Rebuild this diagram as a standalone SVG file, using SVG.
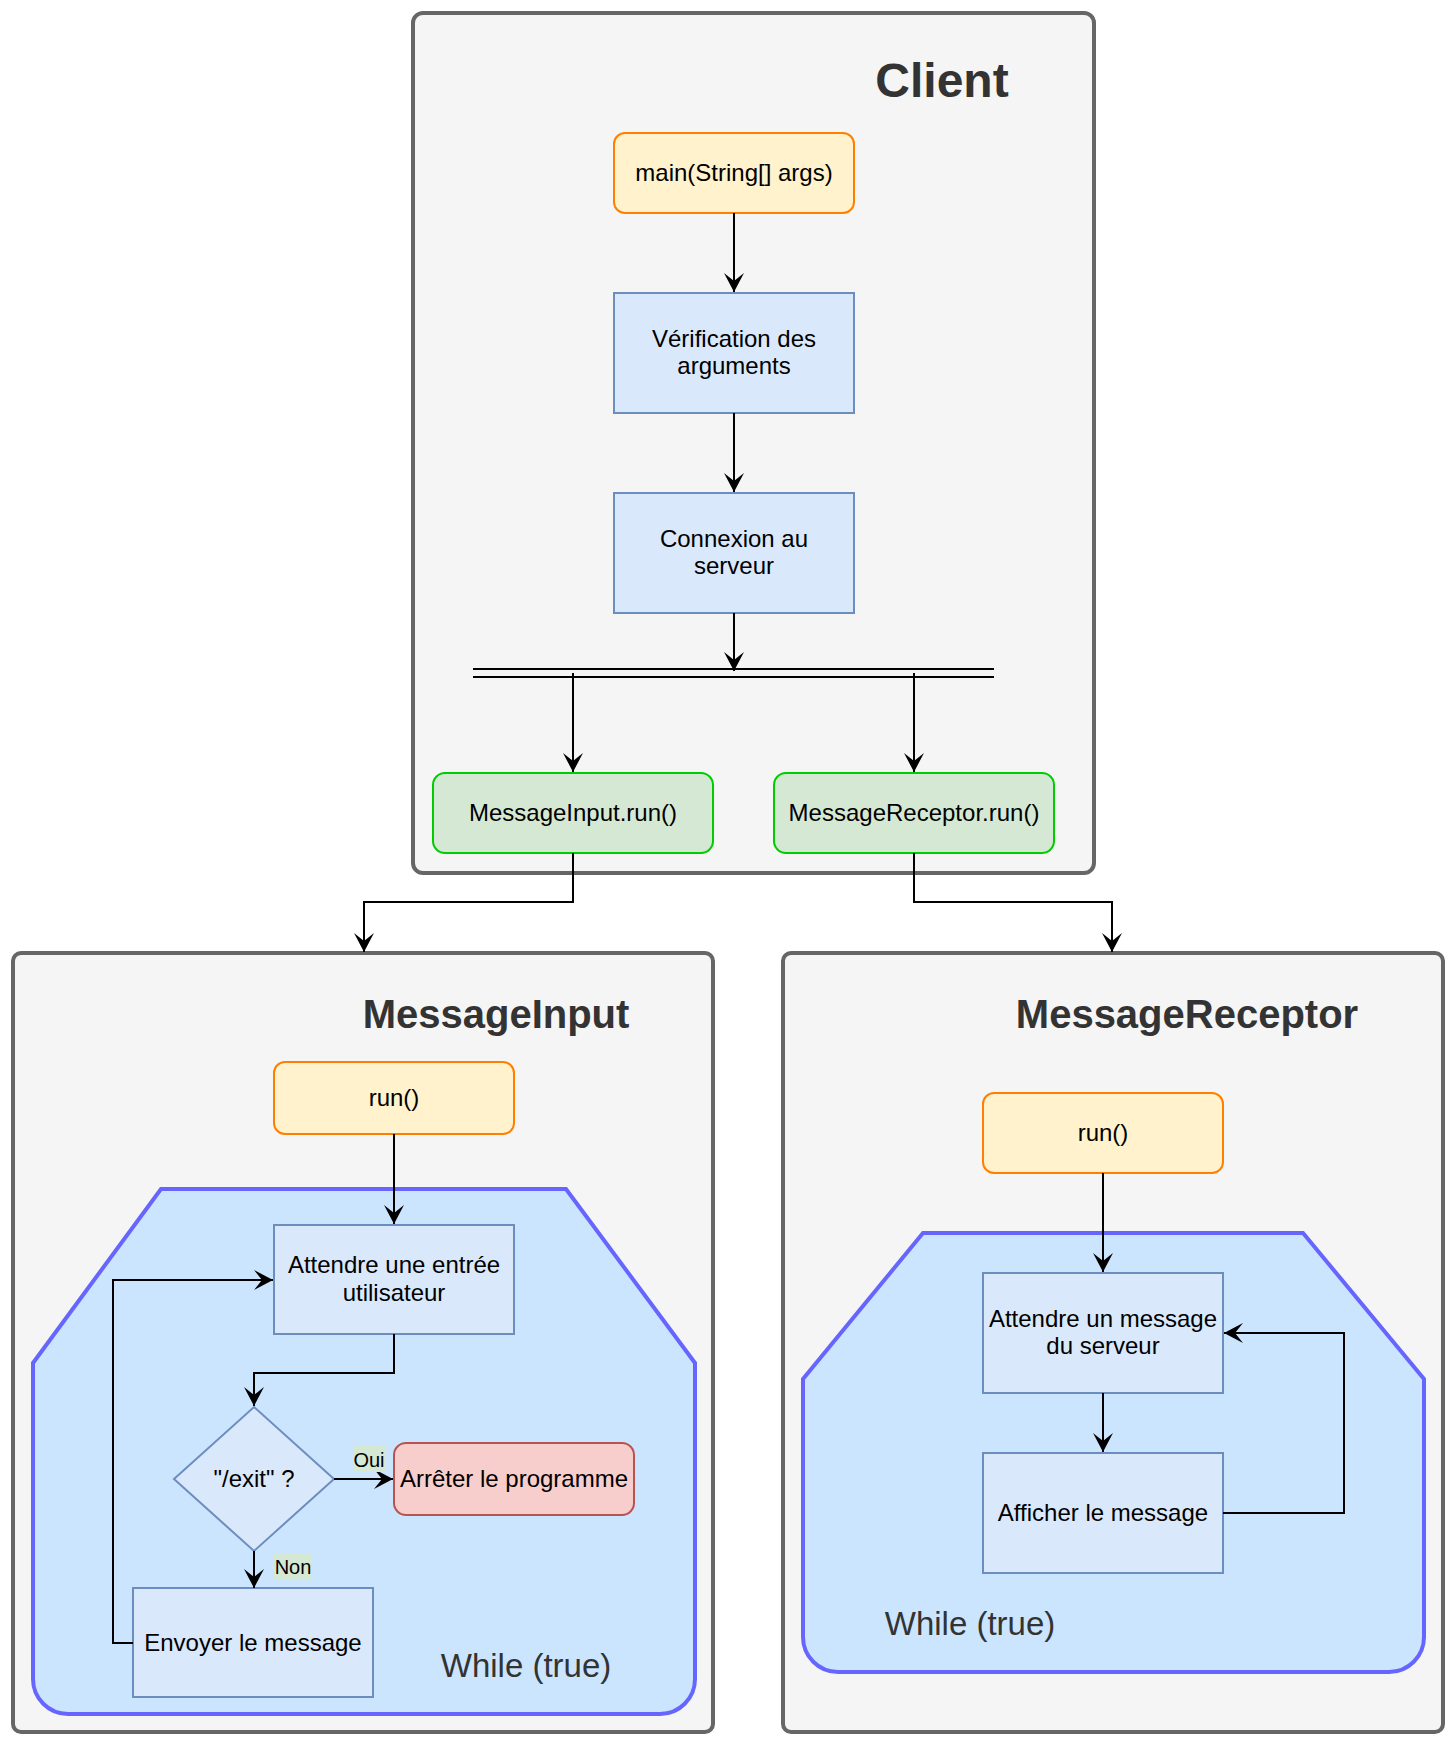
<svg xmlns="http://www.w3.org/2000/svg" width="1454" height="1744" viewBox="0 0 1454 1744">
<style>
text{font-family:"Liberation Sans",Arial,sans-serif;}
.cont{fill:#f5f5f5;stroke:#666666;stroke-width:4;}
.loop{fill:#cce5ff;stroke:#6666ff;stroke-width:4;}
.proc{fill:#dae8fc;stroke:#6c8ebf;stroke-width:2;}
.start{fill:#fff2cc;stroke:#ff8000;stroke-width:2;}
.thr{fill:#d5e8d4;stroke:#00cc00;stroke-width:2;}
.stop{fill:#f8cecc;stroke:#b85450;stroke-width:2;}
.t{font-size:24px;fill:#000;text-anchor:middle;}
.title{font-size:40px;font-weight:bold;fill:#333333;text-anchor:middle;}
.wh{font-size:33px;fill:#333333;text-anchor:middle;}
.lbl{font-size:20px;fill:#000;text-anchor:middle;}
.c{fill:none;stroke:#000;stroke-width:2;}
</style>
<defs>
<marker id="arr" markerUnits="userSpaceOnUse" markerWidth="22" markerHeight="22" viewBox="-20 -11 22 22" refX="0" refY="0" orient="auto">
<path d="M0,0 L-19,-10 L-11,0 L-19,10 Z" fill="#000"/>
</marker>
</defs>

<g id="client">
<rect class="cont" x="413" y="13" width="681" height="860" rx="10"/>
<text class="title" x="942" y="97" style="font-size:48px">Client</text>
</g>
<g id="messageinput">
<rect class="cont" x="13" y="953" width="700" height="779" rx="8"/>
<text class="title" x="496" y="1028">MessageInput</text>
</g>
<g id="messagereceptor">
<rect class="cont" x="783" y="953" width="660" height="779" rx="8"/>
<text class="title" x="1187" y="1028">MessageReceptor</text>
</g>
<g id="while-input">
<path class="loop" d="M161,1189 L566,1189 L695,1363 L695,1679 A35,35 0 0 1 660,1714 L68,1714 A35,35 0 0 1 33,1679 L33,1363 Z"/>
<text class="wh" x="526" y="1677">While (true)</text>
</g>
<g id="while-receptor">
<path class="loop" d="M923,1233 L1303,1233 L1424,1379 L1424,1637 A35,35 0 0 1 1389,1672 L838,1672 A35,35 0 0 1 803,1637 L803,1379 Z"/>
<text class="wh" x="970" y="1635">While (true)</text>
</g>

<g id="main">
<rect class="start" x="614" y="133" width="240" height="80" rx="11"/>
<text class="t" x="734" y="181">main(String[] args)</text>
</g>
<g id="verification">
<rect class="proc" x="614" y="293" width="240" height="120"/>
<text class="t" x="734" y="347">Vérification des</text>
<text class="t" x="734" y="374">arguments</text>
</g>
<g id="connexion">
<rect class="proc" x="614" y="493" width="240" height="120"/>
<text class="t" x="734" y="547">Connexion au</text>
<text class="t" x="734" y="574">serveur</text>
</g>
<g id="fork">
<line x1="473" y1="669" x2="994" y2="669" stroke="#000" stroke-width="2"/>
<line x1="473" y1="677" x2="994" y2="677" stroke="#000" stroke-width="2"/>
</g>
<g id="mi-run-call">
<rect class="thr" x="433" y="773" width="280" height="80" rx="12"/>
<text class="t" x="573" y="821">MessageInput.run()</text>
</g>
<g id="mr-run-call">
<rect class="thr" x="774" y="773" width="280" height="80" rx="12"/>
<text class="t" x="914" y="821">MessageReceptor.run()</text>
</g>

<g id="mi-run">
<rect class="start" x="274" y="1062" width="240" height="72" rx="11"/>
<text class="t" x="394" y="1106">run()</text>
</g>
<g id="attendre-entree">
<rect class="proc" x="274" y="1225" width="240" height="109"/>
<text class="t" x="394" y="1273">Attendre une entrée</text>
<text class="t" x="394" y="1301">utilisateur</text>
</g>
<g id="exit-decision">
<path class="proc" d="M254,1407 L334,1479 L254,1551 L174,1479 Z"/>
<text class="t" x="254" y="1487">"/exit" ?</text>
</g>
<g id="arreter">
<rect class="stop" x="394" y="1443" width="240" height="72" rx="12"/>
<text class="t" x="514" y="1487">Arrêter le programme</text>
</g>
<g id="envoyer">
<rect class="proc" x="133" y="1588" width="240" height="109"/>
<text class="t" x="253" y="1651">Envoyer le message</text>
</g>

<g id="mr-run">
<rect class="start" x="983" y="1093" width="240" height="80" rx="11"/>
<text class="t" x="1103" y="1141">run()</text>
</g>
<g id="attendre-message">
<rect class="proc" x="983" y="1273" width="240" height="120"/>
<text class="t" x="1103" y="1327">Attendre un message</text>
<text class="t" x="1103" y="1354">du serveur</text>
</g>
<g id="afficher">
<rect class="proc" x="983" y="1453" width="240" height="120"/>
<text class="t" x="1103" y="1521">Afficher le message</text>
</g>

<g id="connectors">
<path class="c" d="M734,213 L734,292" marker-end="url(#arr)"/>
<path class="c" d="M734,413 L734,492" marker-end="url(#arr)"/>
<path class="c" d="M734,613 L734,671" marker-end="url(#arr)"/>
<path class="c" d="M573,673 L573,772" marker-end="url(#arr)"/>
<path class="c" d="M914,673 L914,772" marker-end="url(#arr)"/>
<path class="c" d="M573,853 L573,902 L364,902 L364,952" marker-end="url(#arr)"/>
<path class="c" d="M914,853 L914,902 L1112,902 L1112,952" marker-end="url(#arr)"/>
<path class="c" d="M394,1134 L394,1224" marker-end="url(#arr)"/>
<path class="c" d="M394,1334 L394,1373 L254,1373 L254,1406" marker-end="url(#arr)"/>
<path class="c" d="M334,1479 L393,1479" marker-end="url(#arr)"/>
<path class="c" d="M254,1551 L254,1588" marker-end="url(#arr)"/>
<path class="c" d="M133,1643 L113,1643 L113,1280 L273,1280" marker-end="url(#arr)"/>
<path class="c" d="M1103,1173 L1103,1272" marker-end="url(#arr)"/>
<path class="c" d="M1103,1393 L1103,1452" marker-end="url(#arr)"/>
<path class="c" d="M1223,1513 L1344,1513 L1344,1333 L1224,1333" marker-end="url(#arr)"/>
<rect x="353" y="1446" width="32" height="26" fill="#d5e8d4"/>
<text class="lbl" x="369" y="1467">Oui</text>
<rect x="274" y="1554" width="38" height="26" fill="#d5e8d4"/>
<text class="lbl" x="293" y="1574">Non</text>
</g>
</svg>
